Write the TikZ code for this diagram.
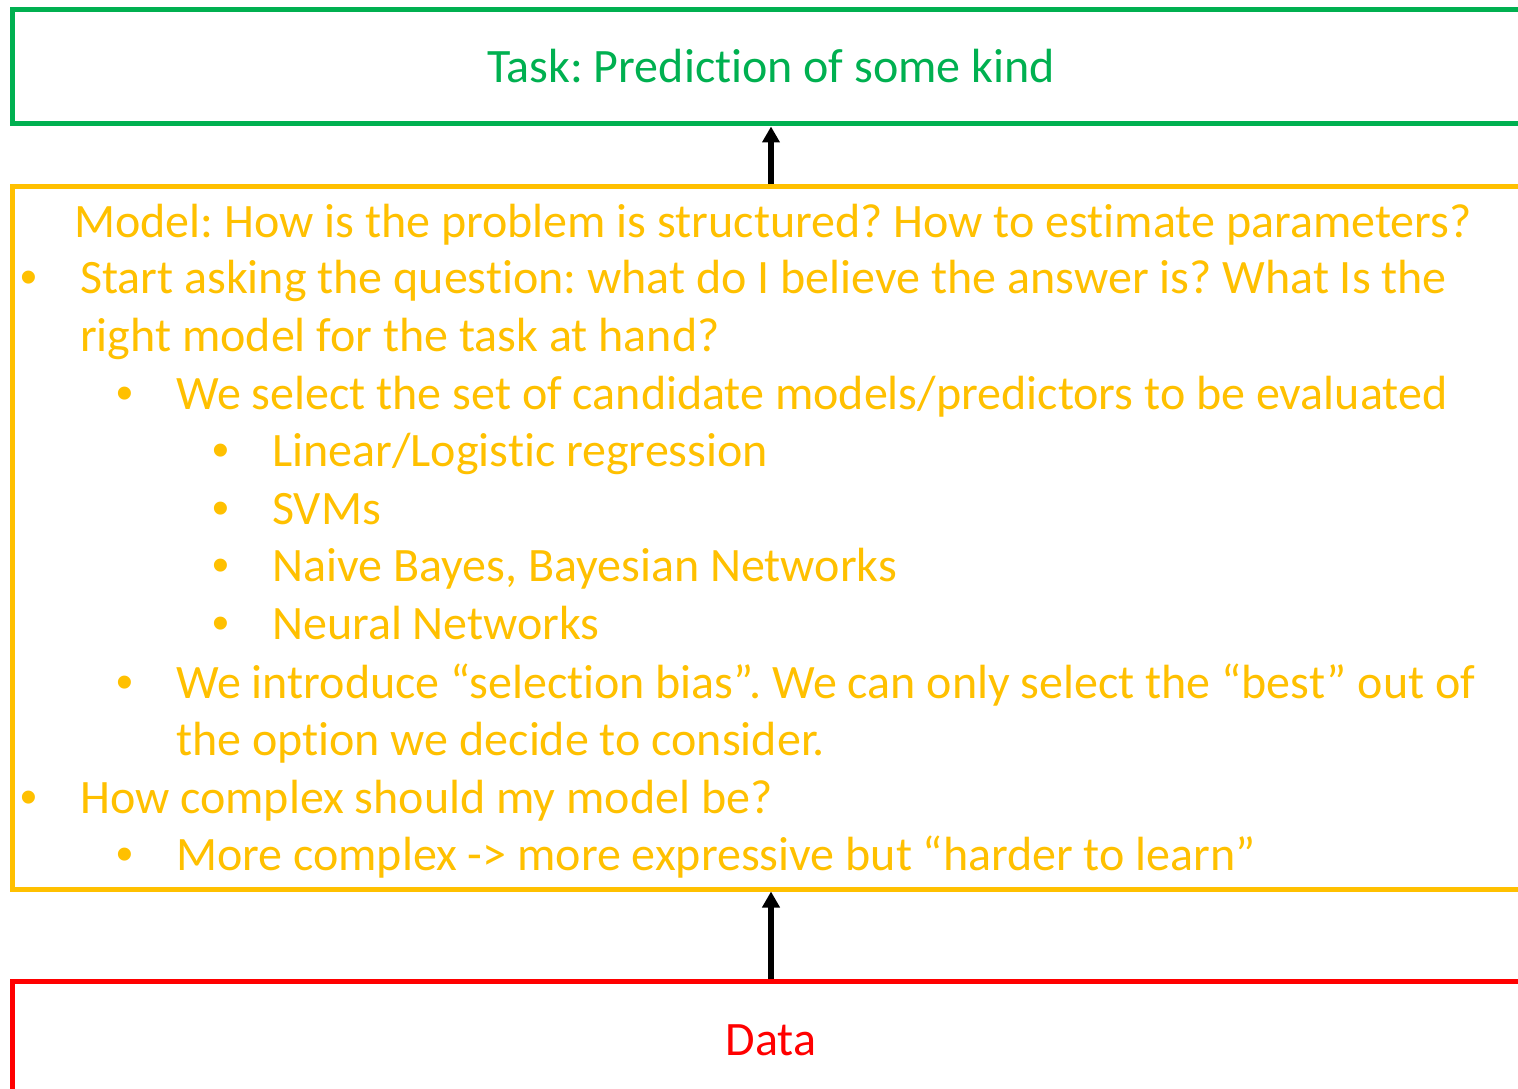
\documentclass[tikz,border=0pt]{standalone}
\usepackage{fontspec}
\setmainfont{Carlito}[Ligatures=NoCommon]
\newfontfamily\bulletfont{Liberation Sans}
\usetikzlibrary{arrows.meta}
\definecolor{tgreen}{HTML}{00B050}
\definecolor{tyellow}{HTML}{FFC000}
\definecolor{tred}{HTML}{FF0000}
\frenchspacing
\begin{document}
\begin{tikzpicture}[x=1pt,y=-1pt,
  boxstyle/.style={draw, line width=5pt, rectangle, minimum width=1518pt, inner sep=0pt},
  txt/.style={anchor=base west, inner sep=0pt, text=tyellow, font=\fontsize{48}{58}\selectfont},
  bul/.style={anchor=base, inner sep=0pt, text=tyellow, font=\bulletfont\fontsize{48}{58}\selectfont},
  conn/.style={line width=5.5pt, -{Triangle[length=16pt,width=17pt]}}]
\useasboundingbox (0,0) rectangle (1518,1089);
\clip (0,0) rectangle (1518,1089);
\node[boxstyle, draw=tgreen, minimum height=114pt] (task) at (771,67) {};
\node[anchor=base, inner sep=0pt, text=tgreen, font=\fontsize{48}{58}\selectfont] (tasktxt) at (771,83) {Task: Prediction of some kind};
\node[boxstyle, draw=tyellow, minimum height=703pt] (model) at (771,537.5) {};
\node[boxstyle, draw=tred, minimum height=300pt] (data) at (771,1131) {};
\node[anchor=base, inner sep=0pt, text=tred, font=\fontsize{48}{58}\selectfont] (datatxt) at (771,1055) {Data};
\draw[conn] (data.north) -- (model.south);
\draw[conn] (model.north) -- (task.south);
% model text
\node[txt] (m0) at (74,237) {Model: How is the problem is structured? How to estimate parameters?};
\node[bul] (b1) at (29,293) {•};
\node[txt] (l1) at (80,293) {Start asking the question: what do I believe the answer is? What Is the};
\node[txt] (l1b) at (80,351) {right model for the task at hand?};
\node[bul] (b2) at (125,409) {•};
\node[txt] (l2) at (176,409) {We select the set of candidate models/predictors to be evaluated};
\node[bul] (b3) at (221,466) {•};
\node[txt] (l3) at (272,466) {Linear/Logistic regression};
\node[bul] (b4) at (221,524) {•};
\node[txt] (l4) at (272,524) {SVMs};
\node[bul] (b5) at (221,581) {•};
\node[txt] (l5) at (272,581) {Naive Bayes, Bayesian Networks};
\node[bul] (b6) at (221,639) {•};
\node[txt] (l6) at (272,639) {Neural Networks};
\node[bul] (b7) at (125,698) {•};
\node[txt] (l7) at (176,698) {We introduce “selection bias”. We can only select the “best” out of};
\node[txt] (l7b) at (176,755) {the option we decide to consider.};
\node[bul] (b8) at (29,813) {•};
\node[txt] (l8) at (80,813) {How complex should my model be?};
\node[bul] (b9) at (125,870) {•};
\node[txt] (l9) at (176,870) {More complex -> more expressive but “harder to learn”};
\end{tikzpicture}
\end{document}
